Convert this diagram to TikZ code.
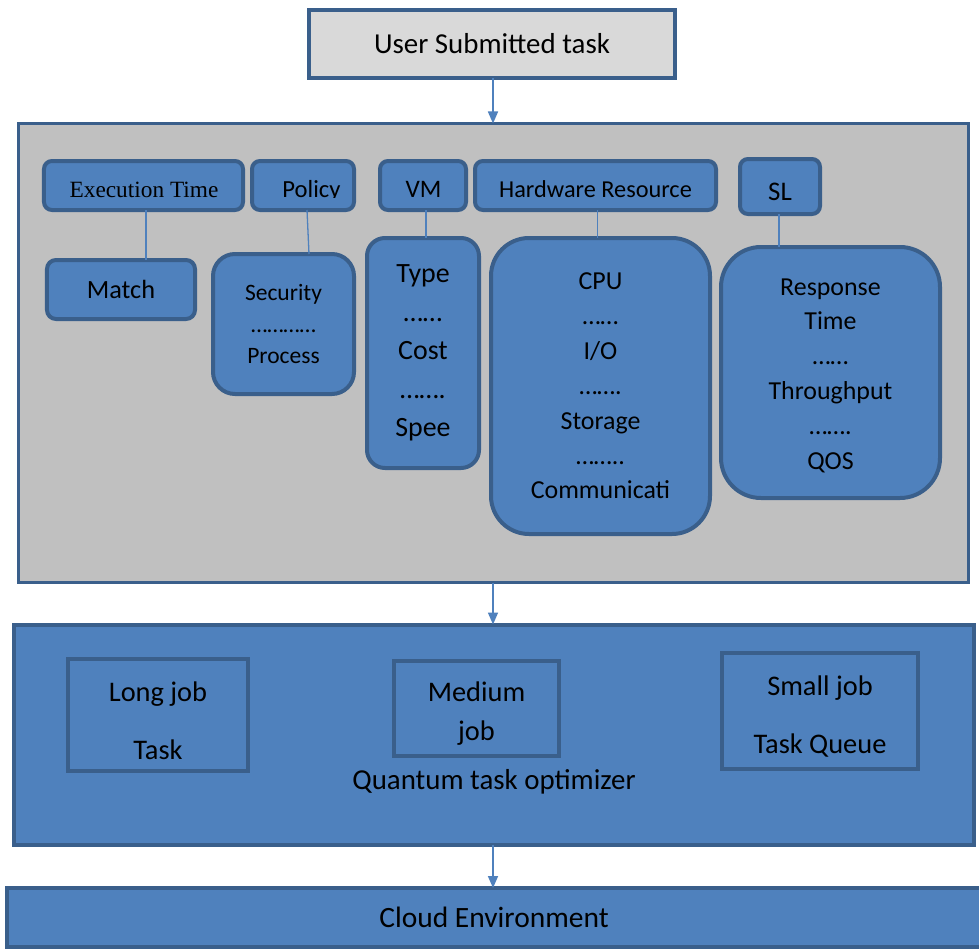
\documentclass[tikz,border=0pt]{standalone}
\usepackage{fontspec}
\setmainfont{Carlito}
\newfontfamily\serifhdr{Liberation Serif}
\usetikzlibrary{arrows.meta}
\definecolor{boxblue}{HTML}{4F81BD}
\definecolor{edgeblue}{HTML}{3A5F8B}
\definecolor{panelgray}{HTML}{C0C0C0}
\definecolor{topgray}{HTML}{D9D9D9}
\definecolor{linkblue}{HTML}{4F81BD}
\newcommand{\topstrut}[1]{\rule{0pt}{#1}}
\tikzset{
  every node/.style={inner sep=0pt, outer sep=0pt, text=black},
  rbox/.style={draw=edgeblue, fill=boxblue, line width=4bp, rounded corners=#1},
  jobbox/.style={draw=edgeblue, line width=4bp},
  arr/.style={draw=linkblue, line width=1.6bp, -{Triangle[length=12bp,width=10bp]}},
  link/.style={draw=linkblue, line width=1.3bp},
  hdrtxt/.style={anchor=base, font=\fontsize{24.4}{28}\selectfont},
  bigtxt/.style={align=center, font=\fontsize{28}{38.75}\selectfont},
  midtxt/.style={align=center, font=\fontsize{26}{35}\selectfont},
}
\begin{document}
\begin{tikzpicture}[x=1bp,y=-1bp]
\useasboundingbox (0,0) rectangle (979,951);
\fill[white] (0,0) rectangle (979,951);

% top box
\node[draw=edgeblue, fill=topgray, line width=4bp, minimum width=366bp, minimum height=68bp,
      font=\fontsize{29}{34}\selectfont] (top) at (492,44) {User Submitted task};

% gray panel
\node[draw=edgeblue, fill=panelgray, line width=3bp, minimum width=950bp, minimum height=459bp] (panel) at (493.5,353) {};

% headers
\node[rbox=8bp, minimum width=199bp, minimum height=49bp] (exH) at (143.5,185.5) {};
\node[rbox=8bp, minimum width=102bp, minimum height=49bp] (poH) at (303,185.5) {};
\node[rbox=8bp, minimum width=86bp,  minimum height=49bp] (vmH) at (423,185.5) {};
\node[rbox=8bp, minimum width=241bp, minimum height=49bp] (hwH) at (595.5,185.5) {};
\node[rbox=8bp, minimum width=80bp,  minimum height=55bp] (slH) at (780,186.5) {};

\begin{scope}
  \clip (0,0) rectangle (979,197.3);
  \node[hdrtxt, font=\serifhdr\fontsize{23.4}{26}\selectfont] (exT) at (144,197.5) {Execution Time};
  \node[hdrtxt, font=\fontsize{24.7}{28}\selectfont] (poT) at (311.5,197.5) {Policy};
  \node[hdrtxt, font=\fontsize{25.3}{28}\selectfont] (vmT) at (423.5,197.5) {VM};
  \node[hdrtxt] (hwT) at (595.5,197.5) {Hardware Resource};
\end{scope}
\node[hdrtxt, font=\fontsize{27}{30}\selectfont] (slT) at (780,200) {SL};

% detail boxes
\node[rbox=9bp, minimum width=148bp, minimum height=59bp, font=\fontsize{26.4}{30}\selectfont] (match) at (121,289.5) {Match};
\node[rbox=22bp, minimum width=141bp, minimum height=140bp, align=center, font=\fontsize{23.6}{31}\selectfont] (sec) at (283.5,324) {Security\\[1bp]…………\\Process};
\node[rbox=18bp, minimum width=112bp, minimum height=230bp, bigtxt] (type) at (423,353) {Type\\……\\Cost\\…….\\Spee};
\node[rbox=38bp, minimum width=219bp, minimum height=296bp, midtxt] (cpu) at (600.5,386) {CPU\\……\\I/O\\…….\\Storage\\……..\\Communicati};
\node[rbox=40bp, minimum width=219bp, minimum height=251bp, midtxt] (resp) at (830.5,372.5) {\topstrut{23bp}Response\\Time\\……\\Throughput\\…….\\QOS};

% connectors
\draw[link] ([xshift=2.5bp]exH.south) -- ([xshift=2.5bp]exH.south |- match.north);
\draw[link] ([xshift=4bp]poH.south) -- ([xshift=25.5bp]sec.north);
\draw[link] ([xshift=3bp]vmH.south) -- ([xshift=3bp]vmH.south |- type.north);
\draw[link] ([xshift=2bp]hwH.south) -- ([xshift=2bp]hwH.south |- cpu.north);
\draw[link] ([xshift=-1bp]slH.south) -- ([xshift=-1bp]slH.south |- resp.north);

% blue panel
\node[draw=edgeblue, fill=boxblue, line width=4bp, minimum width=960bp, minimum height=220bp] (opt) at (494,734.5) {};
\node[jobbox, minimum width=180bp, minimum height=112bp, align=center, font=\fontsize{28.5}{58}\selectfont] (long) at (158,715) {\topstrut{31bp}Long job\\Task};
\node[jobbox, minimum width=165bp, minimum height=95bp, align=center, font=\fontsize{28.5}{39}\selectfont] (med) at (476.5,708.5) {\topstrut{30bp}Medium\\job};
\node[jobbox, minimum width=196bp, minimum height=116bp, align=center, font=\fontsize{28.5}{58}\selectfont] (small) at (820,711) {\topstrut{31bp}Small job\\Task Queue};
\node[font=\fontsize{29}{34}\selectfont] (qto) at (494,782) {Quantum task optimizer};

% cloud
\node[draw=edgeblue, fill=boxblue, line width=4bp, minimum width=973bp, minimum height=59bp, font=\fontsize{29.6}{34}\selectfont] (cloud) at (494,917.5) {Cloud Environment};

% arrows
\draw[arr] (top.south -| 493,0) -- (panel.north -| 493,0);
\draw[arr] (panel.south -| 493,0) -- (opt.north -| 493,0);
\draw[arr] (opt.south -| 493,0) -- (cloud.north -| 493,0);
\end{tikzpicture}
\end{document}
